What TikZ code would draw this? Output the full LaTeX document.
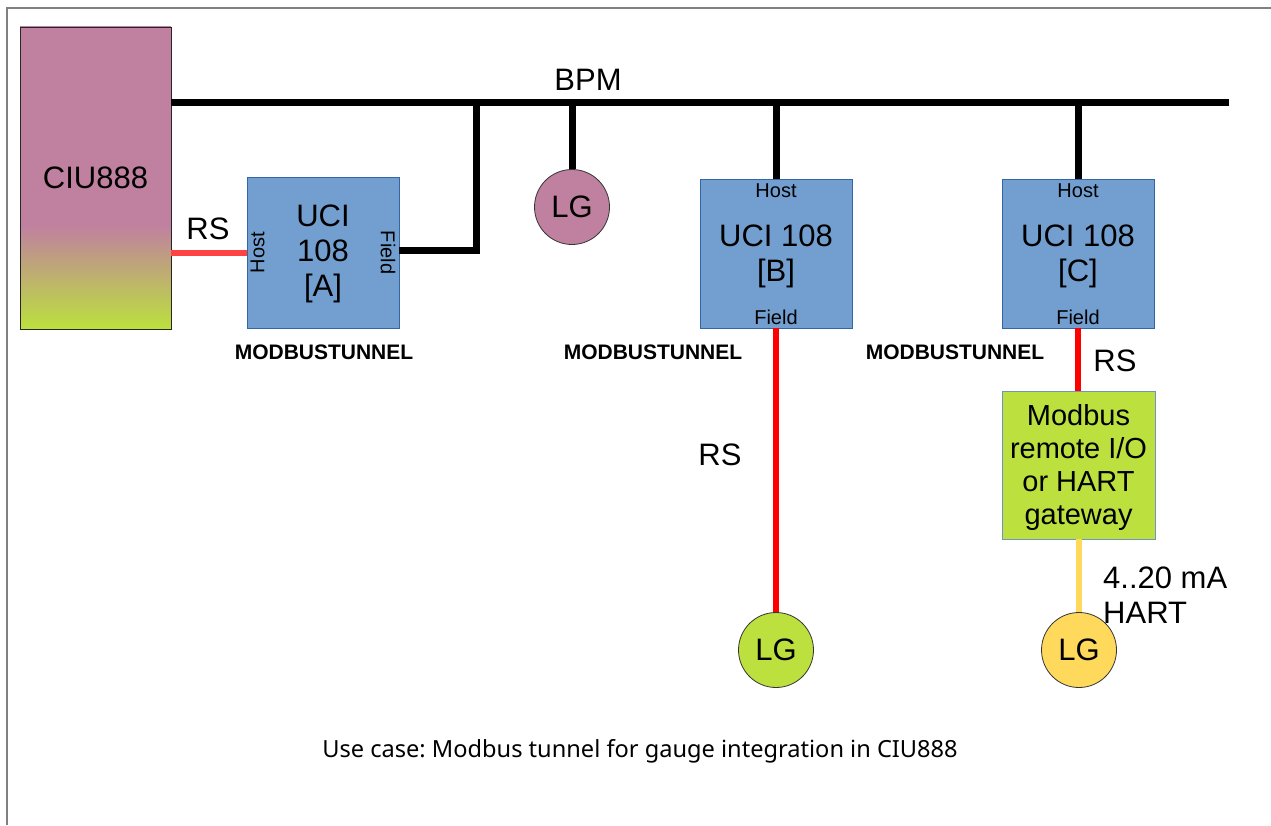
\documentclass[tikz,border=0pt]{standalone}
\usepackage{fontspec}
\setmainfont{Liberation Sans}
\newfontfamily\capfont{Noto Sans}
\definecolor{ciupink}{HTML}{C0809F}
\definecolor{limegreen}{HTML}{BCE03E}
\definecolor{boxblue}{HTML}{729FCF}
\definecolor{boxborder}{HTML}{3465A4}
\definecolor{gaugeyellow}{HTML}{FFD95C}
\definecolor{rslight}{HTML}{FF4242}
\definecolor{framegray}{HTML}{808080}
\tikzset{
  big/.style={font=\fontsize{31}{35}\selectfont},
  small/.style={font=\fontsize{20}{22}\selectfont},
  uci/.style={draw=boxborder, line width=0.8pt, fill=boxblue, minimum width=152, minimum height=149, inner sep=0},
  boxtext/.style={align=center, inner sep=0, big},
  gauge/.style={circle, draw=black!80, line width=0.8pt, minimum size=75, inner sep=0, big},
  bus/.style={line width=7, black},
  rsline/.style={line width=6, red},
  tunnel/.style={font=\fontsize{21}{24}\selectfont\bfseries},
}
\begin{document}
\begin{tikzpicture}[x=1pt, y=-1pt]
\useasboundingbox (0,0) rectangle (1271,825);
\draw[framegray, line width=1.5] (7,825) -- (7,8) -- (1271,8);
% CIU888
\fill[ciupink] (20,26) rectangle (171,225);
\shade[top color=ciupink, bottom color=limegreen] (20,225) rectangle (171,328);
\node[draw=black!85, line width=0.8pt, minimum width=151, minimum height=302, inner sep=0, big] (ciu) at (95.5,178) {CIU888};
% bus
\coordinate (busend) at (1229,102);
\coordinate (tapA) at (476,102);
\draw[bus] (ciu.east |- busend) -- (busend);
\node[big] (bpm) at (588,80) {BPM};
% UCI A
\node[uci, minimum height=151] (uciA) at (323,252.5) {};
\node[boxtext] (uciAtext) at (323,254) {UCI\\108\\{}[A]};
\node[small, rotate=90] (hostA) at (257.5,252.5) {Host};
\node[small, rotate=-90] (fieldA) at (388,252.5) {Field};
\draw[line width=6, rslight] (ciu.east |- uciA.west) -- (uciA.west);
\node[big] (rsA) at (208,229) {RS};
\draw[bus] ([yshift=2]uciA.east) -| (tapA);
\node[tunnel] (tunA) at (324,352) {MODBUSTUNNEL};
% LG pink
\node[gauge, fill=ciupink] (lg1) at (572,207) {LG};
\draw[bus] (lg1.north) -- (lg1.north |- busend);
% UCI B
\node[uci] (uciB) at (776,253.5) {};
\node[boxtext] (uciBtext) at (776,256.5) {UCI 108\\{}[B]};
\node[small] (hostB) at (776,191) {Host};
\node[small] (fieldB) at (776,317.5) {Field};
\draw[bus] (uciB.north) -- (uciB.north |- busend);
\node[tunnel] (tunB) at (653,352) {MODBUSTUNNEL};
\node[gauge, fill=limegreen] (lg2) at (776,650) {LG};
\draw[rsline] (uciB.south) -- (lg2.north);
\node[big] (rsB) at (720,455) {RS};
% UCI C
\node[uci] (uciC) at (1078,253.5) {};
\node[boxtext] (uciCtext) at (1078,256.5) {UCI 108\\{}[C]};
\node[small] (hostC) at (1078,191) {Host};
\node[small] (fieldC) at (1078,317.5) {Field};
\draw[bus] (uciC.north) -- (uciC.north |- busend);
\node[tunnel] (tunC) at (955,352) {MODBUSTUNNEL};
\node[draw=boxborder!70, line width=0.8pt, fill=limegreen, minimum width=153, minimum height=148, inner sep=0] (gw) at (1078.5,465) {};
\node[align=center, inner sep=0, font=\fontsize{29}{33}\selectfont] (gwtext) at (1078.5,467.5) {Modbus\\remote I/O\\or HART\\gateway};
\draw[rsline] (uciC.south) -- (gw.north -| uciC.south);
\node[big] (rsC) at (1115,361) {RS};
\node[gauge, fill=gaugeyellow] (lg3) at (1079,650) {LG};
\draw[line width=6, gaugeyellow] (gw.south -| lg3.north) -- (lg3.north);
\node[big, align=left, anchor=west, inner sep=0] (ma) at (1103,595.5) {4..20 mA\\HART};
% caption
\node[font=\capfont\frenchspacing\fontsize{23.6}{27}\selectfont] (cap) at (640,751) {Use case: Modbus tunnel for gauge integration in CIU888};
\end{tikzpicture}
\end{document}
